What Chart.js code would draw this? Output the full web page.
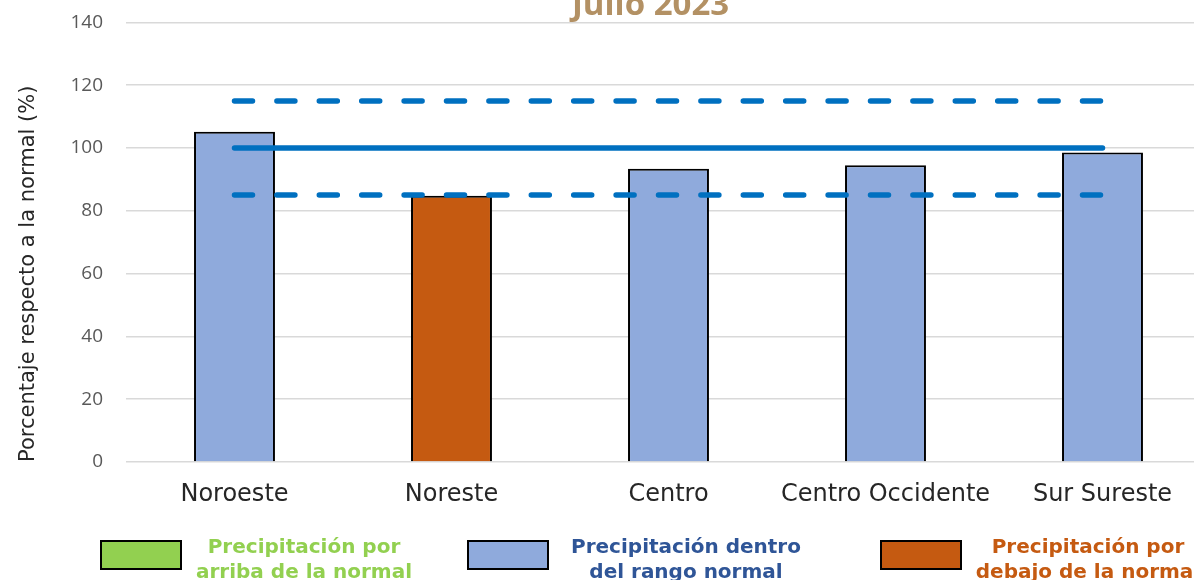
<!DOCTYPE html>
<html>
<head>
<meta charset="utf-8">
<script src="https://cdn.jsdelivr.net/npm/chart.js@4.4.0/dist/chart.umd.min.js"></script>
<style>
  html,body{margin:0;padding:0;background:#fff;overflow:hidden;width:1194px;height:580px;}
  #wrap{position:absolute;left:0;top:-12px;width:1212px;height:592px;}
  .leg{position:absolute;top:540px;height:30px;width:82px;box-sizing:border-box;border:2.5px solid #000;}
  .lt{position:absolute;top:534px;font-family:"DejaVu Sans",sans-serif;font-weight:700;font-size:20px;line-height:25px;text-align:center;white-space:nowrap;transform:translateX(-50%);}
</style>
</head>
<body>
<div id="wrap"><canvas id="chart"></canvas></div>
<div class="leg" style="left:100px;background:#92D050"></div>
<div class="lt" style="left:304px;color:#92D050">Precipitación por<br>arriba de la normal</div>
<div class="leg" style="left:467px;background:#8FAADC"></div>
<div class="lt" style="left:686px;color:#2F5597">Precipitación dentro<br>del rango normal</div>
<div class="leg" style="left:880px;background:#C55A11"></div>
<div class="lt" style="left:1088px;color:#C55A11">Precipitación por<br>debajo de la normal</div>
<script>
const regiones = ['Noroeste','Noreste','Centro','Centro Occidente','Sur Sureste'];
const porcentaje = [105.2, 84.8, 93.4, 94.5, 98.6];
const colores = ['#8FAADC','#C55A11','#8FAADC','#8FAADC','#8FAADC'];
const normal = [100,100,100,100,100];
const limiteSup = [115,115,115,115,115];
const limiteInf = [85,85,85,85,85];
const yTicks = [0,20,40,60,80,100,120,140];

const titlePlugin = {
  id:'titulo',
  afterDraw(chart){
    const c = chart.ctx, a = chart.chartArea;
    c.save();
    c.font = 'bold 33px "Open Sans", sans-serif';
    c.fillStyle = '#B39164';
    c.textAlign = 'center';
    c.textBaseline = 'alphabetic';
    c.fillText('Julio 2023', (a.left + a.right)/2 - 18, a.top - 7);
    c.restore();
  }
};

const lineStyle = {type:'line', borderColor:'#0070C0', borderWidth:5.5, pointRadius:0, borderCapStyle:'round', fill:false, order:0};

new Chart(document.getElementById('chart'), {
  type:'bar',
  data:{
    labels: regiones,
    datasets:[
      {label:'Porcentaje', data:porcentaje, backgroundColor:colores, borderColor:'#000', borderWidth:2,
       categoryPercentage:1, barPercentage:0.373, order:1},
      Object.assign({label:'Normal', data:normal}, lineStyle),
      Object.assign({label:'Superior', data:limiteSup, borderDash:[18,24.4]}, lineStyle),
      Object.assign({label:'Inferior', data:limiteInf, borderDash:[18,24.4]}, lineStyle)
    ]
  },
  plugins:[titlePlugin],
  options:{
    responsive:true, maintainAspectRatio:false, animation:false,
    layout:{padding:{top:12, right:1, left:16, bottom:0}},
    plugins:{legend:{display:false}, tooltip:{enabled:false}},
    scales:{
      x:{
        grid:{display:false}, border:{display:false},
        ticks:{color:'#262626', font:{family:'"DejaVu Sans", sans-serif', size:24}, padding:10, maxRotation:0},
        afterFit(s){ s.height = 118; }
      },
      y:{
        min:0, max:140,
        afterBuildTicks(s){ s.ticks = yTicks.map(v=>({value:v})); },
        grid:{color:'#D9D9D9', lineWidth:1.5, drawTicks:false},
        border:{display:false},
        ticks:{color:'#595959', font:{family:'"Open Sans", sans-serif', size:19}, padding:23},
        title:{display:true, align:'start', text:'Porcentaje respecto a la normal (%)', color:'#262626',
               font:{family:'"DejaVu Sans", sans-serif', size:21}, padding:{top:0,bottom:0}},
        afterFit(s){ s.width = 110; }
      }
    }
  }
});
</script>
</body>
</html>
